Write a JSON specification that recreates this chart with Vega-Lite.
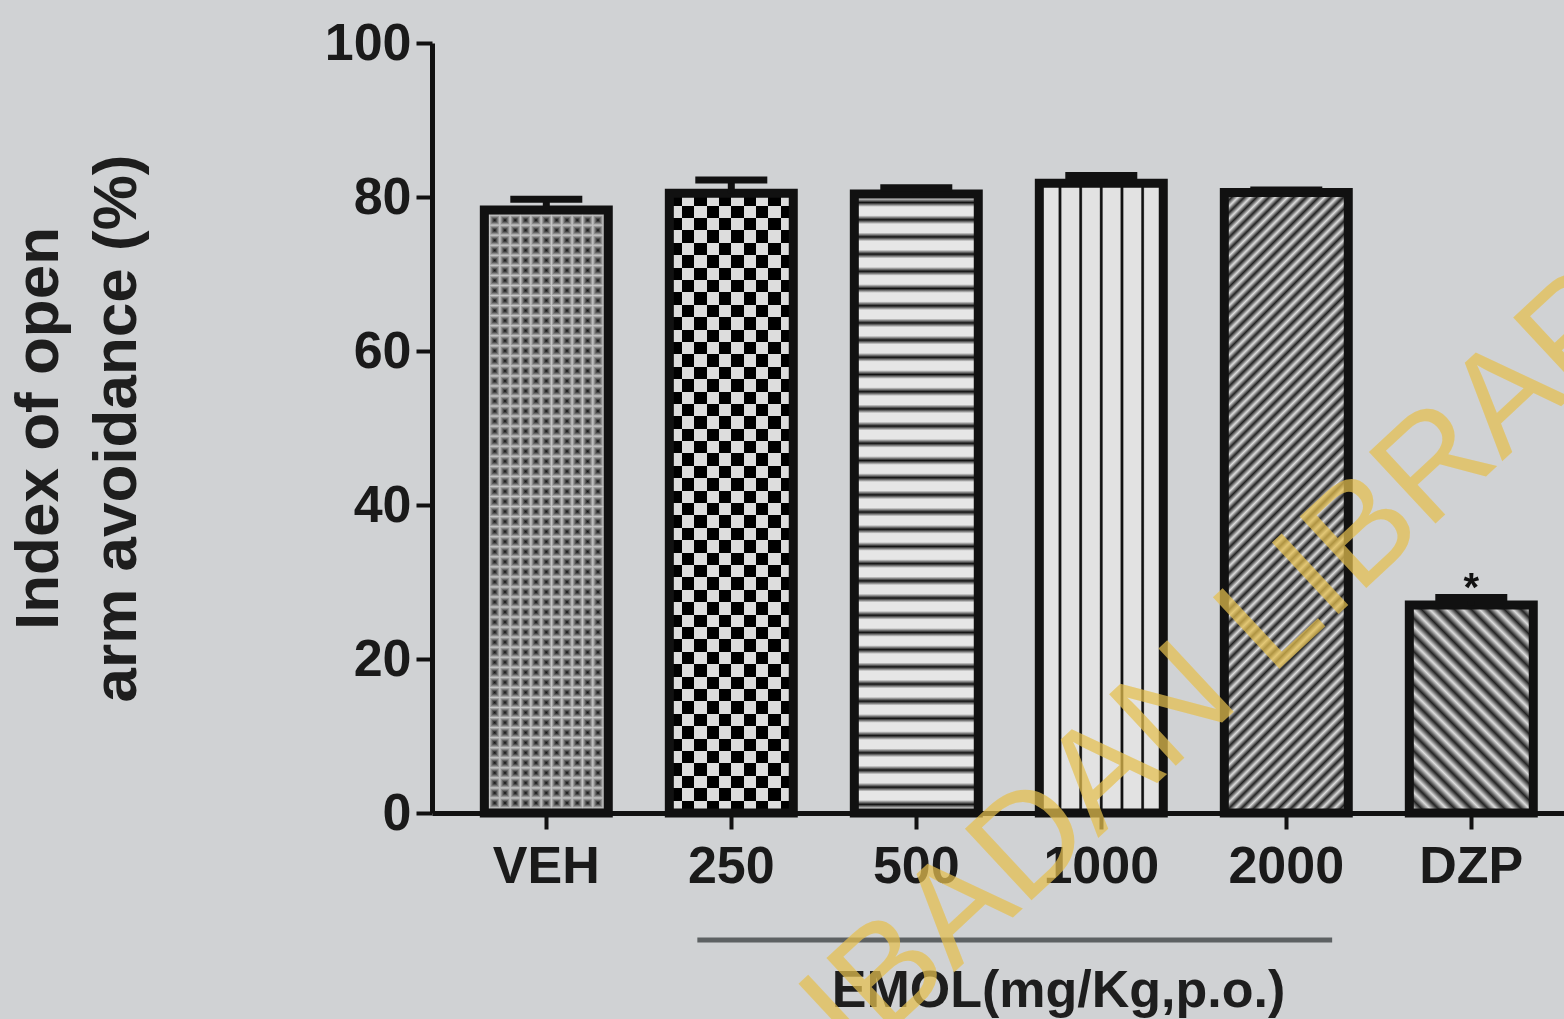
{
"$schema": "https://vega.github.io/schema/vega-lite/v6.json",
"width": 1132,
"height": 770,
"autosize": {"type": "none"},
"padding": {"left": 432, "top": 43, "right": 0, "bottom": 206},
"background": "#d0d2d4",
"config": {"view": {"stroke": null}, "font": "Liberation Sans"},
"data": {"values": [
{"group": "VEH", "mean": 78.3, "upper": 79.7, "sig": ""},
{"group": "250", "mean": 80.5, "upper": 82.2, "sig": ""},
{"group": "500", "mean": 80.4, "upper": 81.2, "sig": ""},
{"group": "1000", "mean": 81.8, "upper": 82.8, "sig": ""},
{"group": "2000", "mean": 80.6, "upper": 80.9, "sig": ""},
{"group": "DZP", "mean": 27.0, "upper": 28.0, "sig": "*"}
]},
"encoding": {
"x": {"field": "group", "type": "nominal", "sort": null,
"scale": {"paddingInner": 0.33, "paddingOuter": 0.2245, "align": 0.63},
"axis": {"title": "EMOL(mg/Kg,p.o.)", "titleX": 626, "titleY": 152, "titleFontSize": 52, "titleFontWeight": "bold", "titleColor": "#1e1e1e", "titleBaseline": "top", "labelAngle": 0, "labelFontSize": 52, "labelFontWeight": "bold", "labelColor": "#1a1a1a", "labelPadding": 12, "domainColor": "#111", "domainWidth": 5, "tickColor": "#111", "tickWidth": 4, "tickSize": 16, "grid": false}},
"y": {"field": "mean", "type": "quantitative", "scale": {"domain": [0, 100], "nice": false},
"axis": {"title": ["Index of open", "arm avoidance (%)"], "values": [0, 20, 40, 60, 80, 100], "titleFontSize": 62, "titleFontWeight": "bold", "titleColor": "#1e1e1e", "titlePadding": 176, "titleLineHeight": 78, "labelFontSize": 52, "labelFontWeight": "bold", "labelColor": "#1a1a1a", "labelPadding": 5, "domainColor": "#111", "domainWidth": 5, "tickColor": "#111", "tickWidth": 4, "tickSize": 16, "grid": false}}
},
"layer": [
{"transform": [{"filter": "datum.group === 'VEH'"}],
"mark": {"type": "bar", "fill": {"gradient": "linear", "x1": 0, "y1": 0, "x2": 1, "y2": 0, "stops": [
{"offset":0,"color":"#111"},{"offset":0.0417,"color":"#c8c8c8"},{"offset":0.0833,"color":"#111"},{"offset":0.125,"color":"#c8c8c8"},{"offset":0.1667,"color":"#111"},{"offset":0.2083,"color":"#c8c8c8"},{"offset":0.25,"color":"#111"},{"offset":0.2917,"color":"#c8c8c8"},{"offset":0.3333,"color":"#111"},{"offset":0.375,"color":"#c8c8c8"},{"offset":0.4167,"color":"#111"},{"offset":0.4583,"color":"#c8c8c8"},{"offset":0.5,"color":"#111"},{"offset":0.5417,"color":"#c8c8c8"},{"offset":0.5833,"color":"#111"},{"offset":0.625,"color":"#c8c8c8"},{"offset":0.6667,"color":"#111"},{"offset":0.7083,"color":"#c8c8c8"},{"offset":0.75,"color":"#111"},{"offset":0.7917,"color":"#c8c8c8"},{"offset":0.8333,"color":"#111"},{"offset":0.875,"color":"#c8c8c8"},{"offset":0.9167,"color":"#111"},{"offset":0.9583,"color":"#c8c8c8"},{"offset":1,"color":"#111"}]}}},
{"transform": [{"filter": "datum.group === 'VEH'"}],
"mark": {"type": "bar", "blend": "lighten", "fill": {"gradient": "linear", "x1": 0, "y1": 0, "x2": 0, "y2": 1, "stops": [
{"offset":0,"color":"#111"},{"offset":0.0083,"color":"#c8c8c8"},{"offset":0.0167,"color":"#111"},{"offset":0.025,"color":"#c8c8c8"},{"offset":0.0333,"color":"#111"},{"offset":0.0417,"color":"#c8c8c8"},{"offset":0.05,"color":"#111"},{"offset":0.0583,"color":"#c8c8c8"},{"offset":0.0667,"color":"#111"},{"offset":0.075,"color":"#c8c8c8"},{"offset":0.0833,"color":"#111"},{"offset":0.0917,"color":"#c8c8c8"},
{"offset":0.1,"color":"#111"},{"offset":0.1083,"color":"#c8c8c8"},{"offset":0.1167,"color":"#111"},{"offset":0.125,"color":"#c8c8c8"},{"offset":0.1333,"color":"#111"},{"offset":0.1417,"color":"#c8c8c8"},{"offset":0.15,"color":"#111"},{"offset":0.1583,"color":"#c8c8c8"},{"offset":0.1667,"color":"#111"},{"offset":0.175,"color":"#c8c8c8"},{"offset":0.1833,"color":"#111"},{"offset":0.1917,"color":"#c8c8c8"},
{"offset":0.2,"color":"#111"},{"offset":0.2083,"color":"#c8c8c8"},{"offset":0.2167,"color":"#111"},{"offset":0.225,"color":"#c8c8c8"},{"offset":0.2333,"color":"#111"},{"offset":0.2417,"color":"#c8c8c8"},{"offset":0.25,"color":"#111"},{"offset":0.2583,"color":"#c8c8c8"},{"offset":0.2667,"color":"#111"},{"offset":0.275,"color":"#c8c8c8"},{"offset":0.2833,"color":"#111"},{"offset":0.2917,"color":"#c8c8c8"},
{"offset":0.3,"color":"#111"},{"offset":0.3083,"color":"#c8c8c8"},{"offset":0.3167,"color":"#111"},{"offset":0.325,"color":"#c8c8c8"},{"offset":0.3333,"color":"#111"},{"offset":0.3417,"color":"#c8c8c8"},{"offset":0.35,"color":"#111"},{"offset":0.3583,"color":"#c8c8c8"},{"offset":0.3667,"color":"#111"},{"offset":0.375,"color":"#c8c8c8"},{"offset":0.3833,"color":"#111"},{"offset":0.3917,"color":"#c8c8c8"},
{"offset":0.4,"color":"#111"},{"offset":0.4083,"color":"#c8c8c8"},{"offset":0.4167,"color":"#111"},{"offset":0.425,"color":"#c8c8c8"},{"offset":0.4333,"color":"#111"},{"offset":0.4417,"color":"#c8c8c8"},{"offset":0.45,"color":"#111"},{"offset":0.4583,"color":"#c8c8c8"},{"offset":0.4667,"color":"#111"},{"offset":0.475,"color":"#c8c8c8"},{"offset":0.4833,"color":"#111"},{"offset":0.4917,"color":"#c8c8c8"},
{"offset":0.5,"color":"#111"},{"offset":0.5083,"color":"#c8c8c8"},{"offset":0.5167,"color":"#111"},{"offset":0.525,"color":"#c8c8c8"},{"offset":0.5333,"color":"#111"},{"offset":0.5417,"color":"#c8c8c8"},{"offset":0.55,"color":"#111"},{"offset":0.5583,"color":"#c8c8c8"},{"offset":0.5667,"color":"#111"},{"offset":0.575,"color":"#c8c8c8"},{"offset":0.5833,"color":"#111"},{"offset":0.5917,"color":"#c8c8c8"},
{"offset":0.6,"color":"#111"},{"offset":0.6083,"color":"#c8c8c8"},{"offset":0.6167,"color":"#111"},{"offset":0.625,"color":"#c8c8c8"},{"offset":0.6333,"color":"#111"},{"offset":0.6417,"color":"#c8c8c8"},{"offset":0.65,"color":"#111"},{"offset":0.6583,"color":"#c8c8c8"},{"offset":0.6667,"color":"#111"},{"offset":0.675,"color":"#c8c8c8"},{"offset":0.6833,"color":"#111"},{"offset":0.6917,"color":"#c8c8c8"},
{"offset":0.7,"color":"#111"},{"offset":0.7083,"color":"#c8c8c8"},{"offset":0.7167,"color":"#111"},{"offset":0.725,"color":"#c8c8c8"},{"offset":0.7333,"color":"#111"},{"offset":0.7417,"color":"#c8c8c8"},{"offset":0.75,"color":"#111"},{"offset":0.7583,"color":"#c8c8c8"},{"offset":0.7667,"color":"#111"},{"offset":0.775,"color":"#c8c8c8"},{"offset":0.7833,"color":"#111"},{"offset":0.7917,"color":"#c8c8c8"},
{"offset":0.8,"color":"#111"},{"offset":0.8083,"color":"#c8c8c8"},{"offset":0.8167,"color":"#111"},{"offset":0.825,"color":"#c8c8c8"},{"offset":0.8333,"color":"#111"},{"offset":0.8417,"color":"#c8c8c8"},{"offset":0.85,"color":"#111"},{"offset":0.8583,"color":"#c8c8c8"},{"offset":0.8667,"color":"#111"},{"offset":0.875,"color":"#c8c8c8"},{"offset":0.8833,"color":"#111"},{"offset":0.8917,"color":"#c8c8c8"},
{"offset":0.9,"color":"#111"},{"offset":0.9083,"color":"#c8c8c8"},{"offset":0.9167,"color":"#111"},{"offset":0.925,"color":"#c8c8c8"},{"offset":0.9333,"color":"#111"},{"offset":0.9417,"color":"#c8c8c8"},{"offset":0.95,"color":"#111"},{"offset":0.9583,"color":"#c8c8c8"},{"offset":0.9667,"color":"#111"},{"offset":0.975,"color":"#c8c8c8"},{"offset":0.9833,"color":"#111"},{"offset":0.9917,"color":"#c8c8c8"},
{"offset":1,"color":"#111"}]}}},
{"transform": [{"filter": "datum.group === '250'"}],
"mark": {"type": "bar", "fill": {"gradient": "linear", "x1": 0, "y1": 0, "x2": 1, "y2": 0, "stops": [
{"offset":0,"color":"#111"},{"offset":0.1,"color":"#111"},{"offset":0.1,"color":"#eee"},{"offset":0.2,"color":"#eee"},{"offset":0.2,"color":"#111"},{"offset":0.3,"color":"#111"},{"offset":0.3,"color":"#eee"},{"offset":0.4,"color":"#eee"},{"offset":0.4,"color":"#111"},{"offset":0.5,"color":"#111"},{"offset":0.5,"color":"#eee"},{"offset":0.6,"color":"#eee"},{"offset":0.6,"color":"#111"},{"offset":0.7,"color":"#111"},{"offset":0.7,"color":"#eee"},{"offset":0.8,"color":"#eee"},{"offset":0.8,"color":"#111"},{"offset":0.9,"color":"#111"},{"offset":0.9,"color":"#eee"},{"offset":1,"color":"#eee"}]}}},
{"transform": [{"filter": "datum.group === '250'"}],
"mark": {"type": "bar", "blend": "difference", "fill": {"gradient": "linear", "x1": 0, "y1": 0, "x2": 0, "y2": 1, "stops": [
{"offset":0,"color":"#111"},{"offset":0.02,"color":"#111"},{"offset":0.02,"color":"#eee"},{"offset":0.04,"color":"#eee"},
{"offset":0.04,"color":"#111"},{"offset":0.06,"color":"#111"},{"offset":0.06,"color":"#eee"},{"offset":0.08,"color":"#eee"},
{"offset":0.08,"color":"#111"},{"offset":0.1,"color":"#111"},{"offset":0.1,"color":"#eee"},{"offset":0.12,"color":"#eee"},
{"offset":0.12,"color":"#111"},{"offset":0.14,"color":"#111"},{"offset":0.14,"color":"#eee"},{"offset":0.16,"color":"#eee"},
{"offset":0.16,"color":"#111"},{"offset":0.18,"color":"#111"},{"offset":0.18,"color":"#eee"},{"offset":0.2,"color":"#eee"},
{"offset":0.2,"color":"#111"},{"offset":0.22,"color":"#111"},{"offset":0.22,"color":"#eee"},{"offset":0.24,"color":"#eee"},
{"offset":0.24,"color":"#111"},{"offset":0.26,"color":"#111"},{"offset":0.26,"color":"#eee"},{"offset":0.28,"color":"#eee"},
{"offset":0.28,"color":"#111"},{"offset":0.3,"color":"#111"},{"offset":0.3,"color":"#eee"},{"offset":0.32,"color":"#eee"},
{"offset":0.32,"color":"#111"},{"offset":0.34,"color":"#111"},{"offset":0.34,"color":"#eee"},{"offset":0.36,"color":"#eee"},
{"offset":0.36,"color":"#111"},{"offset":0.38,"color":"#111"},{"offset":0.38,"color":"#eee"},{"offset":0.4,"color":"#eee"},
{"offset":0.4,"color":"#111"},{"offset":0.42,"color":"#111"},{"offset":0.42,"color":"#eee"},{"offset":0.44,"color":"#eee"},
{"offset":0.44,"color":"#111"},{"offset":0.46,"color":"#111"},{"offset":0.46,"color":"#eee"},{"offset":0.48,"color":"#eee"},
{"offset":0.48,"color":"#111"},{"offset":0.5,"color":"#111"},{"offset":0.5,"color":"#eee"},{"offset":0.52,"color":"#eee"},
{"offset":0.52,"color":"#111"},{"offset":0.54,"color":"#111"},{"offset":0.54,"color":"#eee"},{"offset":0.56,"color":"#eee"},
{"offset":0.56,"color":"#111"},{"offset":0.58,"color":"#111"},{"offset":0.58,"color":"#eee"},{"offset":0.6,"color":"#eee"},
{"offset":0.6,"color":"#111"},{"offset":0.62,"color":"#111"},{"offset":0.62,"color":"#eee"},{"offset":0.64,"color":"#eee"},
{"offset":0.64,"color":"#111"},{"offset":0.66,"color":"#111"},{"offset":0.66,"color":"#eee"},{"offset":0.68,"color":"#eee"},
{"offset":0.68,"color":"#111"},{"offset":0.7,"color":"#111"},{"offset":0.7,"color":"#eee"},{"offset":0.72,"color":"#eee"},
{"offset":0.72,"color":"#111"},{"offset":0.74,"color":"#111"},{"offset":0.74,"color":"#eee"},{"offset":0.76,"color":"#eee"},
{"offset":0.76,"color":"#111"},{"offset":0.78,"color":"#111"},{"offset":0.78,"color":"#eee"},{"offset":0.8,"color":"#eee"},
{"offset":0.8,"color":"#111"},{"offset":0.82,"color":"#111"},{"offset":0.82,"color":"#eee"},{"offset":0.84,"color":"#eee"},
{"offset":0.84,"color":"#111"},{"offset":0.86,"color":"#111"},{"offset":0.86,"color":"#eee"},{"offset":0.88,"color":"#eee"},
{"offset":0.88,"color":"#111"},{"offset":0.9,"color":"#111"},{"offset":0.9,"color":"#eee"},{"offset":0.92,"color":"#eee"},
{"offset":0.92,"color":"#111"},{"offset":0.94,"color":"#111"},{"offset":0.94,"color":"#eee"},{"offset":0.96,"color":"#eee"},
{"offset":0.96,"color":"#111"},{"offset":0.98,"color":"#111"},{"offset":0.98,"color":"#eee"},{"offset":1,"color":"#eee"}]}}},
{"transform": [{"filter": "datum.group === '500'"}],
"mark": {"type": "bar", "fill": {"gradient": "linear", "x1": 0, "y1": 0, "x2": 0, "y2": 1, "stops": [
{"offset":0,"color":"#e6e6e6"},
{"offset":0.0069,"color":"#e6e6e6"},{"offset":0.0139,"color":"#111"},{"offset":0.0209,"color":"#e6e6e6"},
{"offset":0.0347,"color":"#e6e6e6"},{"offset":0.0417,"color":"#111"},{"offset":0.0487,"color":"#e6e6e6"},
{"offset":0.0624,"color":"#e6e6e6"},{"offset":0.0694,"color":"#111"},{"offset":0.0764,"color":"#e6e6e6"},
{"offset":0.0902,"color":"#e6e6e6"},{"offset":0.0972,"color":"#111"},{"offset":0.1042,"color":"#e6e6e6"},
{"offset":0.118,"color":"#e6e6e6"},{"offset":0.125,"color":"#111"},{"offset":0.132,"color":"#e6e6e6"},
{"offset":0.1458,"color":"#e6e6e6"},{"offset":0.1528,"color":"#111"},{"offset":0.1598,"color":"#e6e6e6"},
{"offset":0.1736,"color":"#e6e6e6"},{"offset":0.1806,"color":"#111"},{"offset":0.1876,"color":"#e6e6e6"},
{"offset":0.2013,"color":"#e6e6e6"},{"offset":0.2083,"color":"#111"},{"offset":0.2153,"color":"#e6e6e6"},
{"offset":0.2291,"color":"#e6e6e6"},{"offset":0.2361,"color":"#111"},{"offset":0.2431,"color":"#e6e6e6"},
{"offset":0.2569,"color":"#e6e6e6"},{"offset":0.2639,"color":"#111"},{"offset":0.2709,"color":"#e6e6e6"},
{"offset":0.2847,"color":"#e6e6e6"},{"offset":0.2917,"color":"#111"},{"offset":0.2987,"color":"#e6e6e6"},
{"offset":0.3124,"color":"#e6e6e6"},{"offset":0.3194,"color":"#111"},{"offset":0.3264,"color":"#e6e6e6"},
{"offset":0.3402,"color":"#e6e6e6"},{"offset":0.3472,"color":"#111"},{"offset":0.3542,"color":"#e6e6e6"},
{"offset":0.368,"color":"#e6e6e6"},{"offset":0.375,"color":"#111"},{"offset":0.382,"color":"#e6e6e6"},
{"offset":0.3958,"color":"#e6e6e6"},{"offset":0.4028,"color":"#111"},{"offset":0.4098,"color":"#e6e6e6"},
{"offset":0.4236,"color":"#e6e6e6"},{"offset":0.4306,"color":"#111"},{"offset":0.4376,"color":"#e6e6e6"},
{"offset":0.4513,"color":"#e6e6e6"},{"offset":0.4583,"color":"#111"},{"offset":0.4653,"color":"#e6e6e6"},
{"offset":0.4791,"color":"#e6e6e6"},{"offset":0.4861,"color":"#111"},{"offset":0.4931,"color":"#e6e6e6"},
{"offset":0.5069,"color":"#e6e6e6"},{"offset":0.5139,"color":"#111"},{"offset":0.5209,"color":"#e6e6e6"},
{"offset":0.5347,"color":"#e6e6e6"},{"offset":0.5417,"color":"#111"},{"offset":0.5487,"color":"#e6e6e6"},
{"offset":0.5624,"color":"#e6e6e6"},{"offset":0.5694,"color":"#111"},{"offset":0.5764,"color":"#e6e6e6"},
{"offset":0.5902,"color":"#e6e6e6"},{"offset":0.5972,"color":"#111"},{"offset":0.6042,"color":"#e6e6e6"},
{"offset":0.618,"color":"#e6e6e6"},{"offset":0.625,"color":"#111"},{"offset":0.632,"color":"#e6e6e6"},
{"offset":0.6458,"color":"#e6e6e6"},{"offset":0.6528,"color":"#111"},{"offset":0.6598,"color":"#e6e6e6"},
{"offset":0.6736,"color":"#e6e6e6"},{"offset":0.6806,"color":"#111"},{"offset":0.6876,"color":"#e6e6e6"},
{"offset":0.7013,"color":"#e6e6e6"},{"offset":0.7083,"color":"#111"},{"offset":0.7153,"color":"#e6e6e6"},
{"offset":0.7291,"color":"#e6e6e6"},{"offset":0.7361,"color":"#111"},{"offset":0.7431,"color":"#e6e6e6"},
{"offset":0.7569,"color":"#e6e6e6"},{"offset":0.7639,"color":"#111"},{"offset":0.7709,"color":"#e6e6e6"},
{"offset":0.7847,"color":"#e6e6e6"},{"offset":0.7917,"color":"#111"},{"offset":0.7987,"color":"#e6e6e6"},
{"offset":0.8124,"color":"#e6e6e6"},{"offset":0.8194,"color":"#111"},{"offset":0.8264,"color":"#e6e6e6"},
{"offset":0.8402,"color":"#e6e6e6"},{"offset":0.8472,"color":"#111"},{"offset":0.8542,"color":"#e6e6e6"},
{"offset":0.868,"color":"#e6e6e6"},{"offset":0.875,"color":"#111"},{"offset":0.882,"color":"#e6e6e6"},
{"offset":0.8958,"color":"#e6e6e6"},{"offset":0.9028,"color":"#111"},{"offset":0.9098,"color":"#e6e6e6"},
{"offset":0.9236,"color":"#e6e6e6"},{"offset":0.9306,"color":"#111"},{"offset":0.9376,"color":"#e6e6e6"},
{"offset":0.9513,"color":"#e6e6e6"},{"offset":0.9583,"color":"#111"},{"offset":0.9653,"color":"#e6e6e6"},
{"offset":0.9791,"color":"#e6e6e6"},{"offset":0.9861,"color":"#111"},{"offset":0.9931,"color":"#e6e6e6"},
{"offset":1,"color":"#e6e6e6"}]}}},
{"transform": [{"filter": "datum.group === '1000'"}],
"mark": {"type": "bar", "fill": {"gradient": "linear", "x1": 0, "y1": 0, "x2": 1, "y2": 0, "stops": [
{"offset":0,"color":"#e2e2e2"},
{"offset":0.1507,"color":"#e2e2e2"},{"offset":0.1607,"color":"#111"},{"offset":0.1727,"color":"#111"},{"offset":0.1827,"color":"#e2e2e2"},
{"offset":0.3173,"color":"#e2e2e2"},{"offset":0.3273,"color":"#111"},{"offset":0.3393,"color":"#111"},{"offset":0.3493,"color":"#e2e2e2"},
{"offset":0.484,"color":"#e2e2e2"},{"offset":0.494,"color":"#111"},{"offset":0.506,"color":"#111"},{"offset":0.516,"color":"#e2e2e2"},
{"offset":0.6507,"color":"#e2e2e2"},{"offset":0.6607,"color":"#111"},{"offset":0.6727,"color":"#111"},{"offset":0.6827,"color":"#e2e2e2"},
{"offset":0.8173,"color":"#e2e2e2"},{"offset":0.8273,"color":"#111"},{"offset":0.8393,"color":"#111"},{"offset":0.8493,"color":"#e2e2e2"},
{"offset":1,"color":"#e2e2e2"}]}}},
{"transform": [{"filter": "datum.group === '2000'"}],
"mark": {"type": "bar", "fill": {"gradient": "linear", "x1": 0, "y1": 0, "x2": 0.2308, "y2": 1.154, "stops": [
{"offset":0,"color":"#222"},{"offset":0.0083,"color":"#ddd"},{"offset":0.0167,"color":"#222"},{"offset":0.025,"color":"#ddd"},{"offset":0.0333,"color":"#222"},{"offset":0.0417,"color":"#ddd"},{"offset":0.05,"color":"#222"},{"offset":0.0583,"color":"#ddd"},{"offset":0.0667,"color":"#222"},{"offset":0.075,"color":"#ddd"},{"offset":0.0833,"color":"#222"},{"offset":0.0917,"color":"#ddd"},
{"offset":0.1,"color":"#222"},{"offset":0.1083,"color":"#ddd"},{"offset":0.1167,"color":"#222"},{"offset":0.125,"color":"#ddd"},{"offset":0.1333,"color":"#222"},{"offset":0.1417,"color":"#ddd"},{"offset":0.15,"color":"#222"},{"offset":0.1583,"color":"#ddd"},{"offset":0.1667,"color":"#222"},{"offset":0.175,"color":"#ddd"},{"offset":0.1833,"color":"#222"},{"offset":0.1917,"color":"#ddd"},
{"offset":0.2,"color":"#222"},{"offset":0.2083,"color":"#ddd"},{"offset":0.2167,"color":"#222"},{"offset":0.225,"color":"#ddd"},{"offset":0.2333,"color":"#222"},{"offset":0.2417,"color":"#ddd"},{"offset":0.25,"color":"#222"},{"offset":0.2583,"color":"#ddd"},{"offset":0.2667,"color":"#222"},{"offset":0.275,"color":"#ddd"},{"offset":0.2833,"color":"#222"},{"offset":0.2917,"color":"#ddd"},
{"offset":0.3,"color":"#222"},{"offset":0.3083,"color":"#ddd"},{"offset":0.3167,"color":"#222"},{"offset":0.325,"color":"#ddd"},{"offset":0.3333,"color":"#222"},{"offset":0.3417,"color":"#ddd"},{"offset":0.35,"color":"#222"},{"offset":0.3583,"color":"#ddd"},{"offset":0.3667,"color":"#222"},{"offset":0.375,"color":"#ddd"},{"offset":0.3833,"color":"#222"},{"offset":0.3917,"color":"#ddd"},
{"offset":0.4,"color":"#222"},{"offset":0.4083,"color":"#ddd"},{"offset":0.4167,"color":"#222"},{"offset":0.425,"color":"#ddd"},{"offset":0.4333,"color":"#222"},{"offset":0.4417,"color":"#ddd"},{"offset":0.45,"color":"#222"},{"offset":0.4583,"color":"#ddd"},{"offset":0.4667,"color":"#222"},{"offset":0.475,"color":"#ddd"},{"offset":0.4833,"color":"#222"},{"offset":0.4917,"color":"#ddd"},
{"offset":0.5,"color":"#222"},{"offset":0.5083,"color":"#ddd"},{"offset":0.5167,"color":"#222"},{"offset":0.525,"color":"#ddd"},{"offset":0.5333,"color":"#222"},{"offset":0.5417,"color":"#ddd"},{"offset":0.55,"color":"#222"},{"offset":0.5583,"color":"#ddd"},{"offset":0.5667,"color":"#222"},{"offset":0.575,"color":"#ddd"},{"offset":0.5833,"color":"#222"},{"offset":0.5917,"color":"#ddd"},
{"offset":0.6,"color":"#222"},{"offset":0.6083,"color":"#ddd"},{"offset":0.6167,"color":"#222"},{"offset":0.625,"color":"#ddd"},{"offset":0.6333,"color":"#222"},{"offset":0.6417,"color":"#ddd"},{"offset":0.65,"color":"#222"},{"offset":0.6583,"color":"#ddd"},{"offset":0.6667,"color":"#222"},{"offset":0.675,"color":"#ddd"},{"offset":0.6833,"color":"#222"},{"offset":0.6917,"color":"#ddd"},
{"offset":0.7,"color":"#222"},{"offset":0.7083,"color":"#ddd"},{"offset":0.7167,"color":"#222"},{"offset":0.725,"color":"#ddd"},{"offset":0.7333,"color":"#222"},{"offset":0.7417,"color":"#ddd"},{"offset":0.75,"color":"#222"},{"offset":0.7583,"color":"#ddd"},{"offset":0.7667,"color":"#222"},{"offset":0.775,"color":"#ddd"},{"offset":0.7833,"color":"#222"},{"offset":0.7917,"color":"#ddd"},
{"offset":0.8,"color":"#222"},{"offset":0.8083,"color":"#ddd"},{"offset":0.8167,"color":"#222"},{"offset":0.825,"color":"#ddd"},{"offset":0.8333,"color":"#222"},{"offset":0.8417,"color":"#ddd"},{"offset":0.85,"color":"#222"},{"offset":0.8583,"color":"#ddd"},{"offset":0.8667,"color":"#222"},{"offset":0.875,"color":"#ddd"},{"offset":0.8833,"color":"#222"},{"offset":0.8917,"color":"#ddd"},
{"offset":0.9,"color":"#222"},{"offset":0.9083,"color":"#ddd"},{"offset":0.9167,"color":"#222"},{"offset":0.925,"color":"#ddd"},{"offset":0.9333,"color":"#222"},{"offset":0.9417,"color":"#ddd"},{"offset":0.95,"color":"#222"},{"offset":0.9583,"color":"#ddd"},{"offset":0.9667,"color":"#222"},{"offset":0.975,"color":"#ddd"},{"offset":0.9833,"color":"#222"},{"offset":0.9917,"color":"#ddd"},
{"offset":1,"color":"#222"}]}}},
{"transform": [{"filter": "datum.group === 'DZP'"}],
"mark": {"type": "bar", "fill": {"gradient": "linear", "x1": 0, "y1": 1, "x2": 0.7022, "y2": -0.1776, "stops": [
{"offset":0,"color":"#222"},{"offset":0.025,"color":"#ddd"},{"offset":0.05,"color":"#222"},{"offset":0.075,"color":"#ddd"},{"offset":0.1,"color":"#222"},{"offset":0.125,"color":"#ddd"},{"offset":0.15,"color":"#222"},{"offset":0.175,"color":"#ddd"},{"offset":0.2,"color":"#222"},{"offset":0.225,"color":"#ddd"},{"offset":0.25,"color":"#222"},{"offset":0.275,"color":"#ddd"},{"offset":0.3,"color":"#222"},{"offset":0.325,"color":"#ddd"},{"offset":0.35,"color":"#222"},{"offset":0.375,"color":"#ddd"},{"offset":0.4,"color":"#222"},{"offset":0.425,"color":"#ddd"},{"offset":0.45,"color":"#222"},{"offset":0.475,"color":"#ddd"},{"offset":0.5,"color":"#222"},{"offset":0.525,"color":"#ddd"},{"offset":0.55,"color":"#222"},{"offset":0.575,"color":"#ddd"},{"offset":0.6,"color":"#222"},{"offset":0.625,"color":"#ddd"},{"offset":0.65,"color":"#222"},{"offset":0.675,"color":"#ddd"},{"offset":0.7,"color":"#222"},{"offset":0.725,"color":"#ddd"},{"offset":0.75,"color":"#222"},{"offset":0.775,"color":"#ddd"},{"offset":0.8,"color":"#222"},{"offset":0.825,"color":"#ddd"},{"offset":0.85,"color":"#222"},{"offset":0.875,"color":"#ddd"},{"offset":0.9,"color":"#222"},{"offset":0.925,"color":"#ddd"},{"offset":0.95,"color":"#222"},{"offset":0.975,"color":"#ddd"},{"offset":1,"color":"#222"}]}}},
{"mark": {"type": "bar", "fill": "#000", "fillOpacity": 0, "stroke": "#111", "strokeWidth": 9}},
{"mark": {"type": "rule", "color": "#111", "strokeWidth": 7},
"encoding": {"y": {"field": "mean", "type": "quantitative"}, "y2": {"field": "upper"}}},
{"mark": {"type": "tick", "color": "#111", "opacity": 1, "thickness": 7, "size": 72},
"encoding": {"y": {"field": "upper", "type": "quantitative"}}},
{"mark": {"type": "text", "fontSize": 40, "fontWeight": "bold", "color": "#111", "baseline": "alphabetic", "dy": 4},
"encoding": {"y": {"field": "upper", "type": "quantitative"}, "text": {"field": "sig"}}},
{"transform": [{"filter": "datum.group === 'VEH'"}],
"mark": {"type": "rule", "color": "#5d6163", "strokeWidth": 5},
"encoding": {"x": {"datum": "250", "type": "nominal", "bandPosition": 0.226}, "x2": {"datum": "2000", "bandPosition": 0.87}, "y": {"datum": -16.5, "type": "quantitative"}}},
{"transform": [{"filter": "datum.group === 'VEH'"}],
"mark": {"type": "text", "angle": -43, "fontSize": 142, "color": "#e6c04f", "opacity": 0.72, "align": "center", "baseline": "middle"},
"encoding": {"x": {"datum": "2000", "type": "nominal", "bandPosition": 0.25}, "y": {"datum": 23.4, "type": "quantitative"}, "text": {"value": "IBADAN LIBRARY"}}}
]
}
